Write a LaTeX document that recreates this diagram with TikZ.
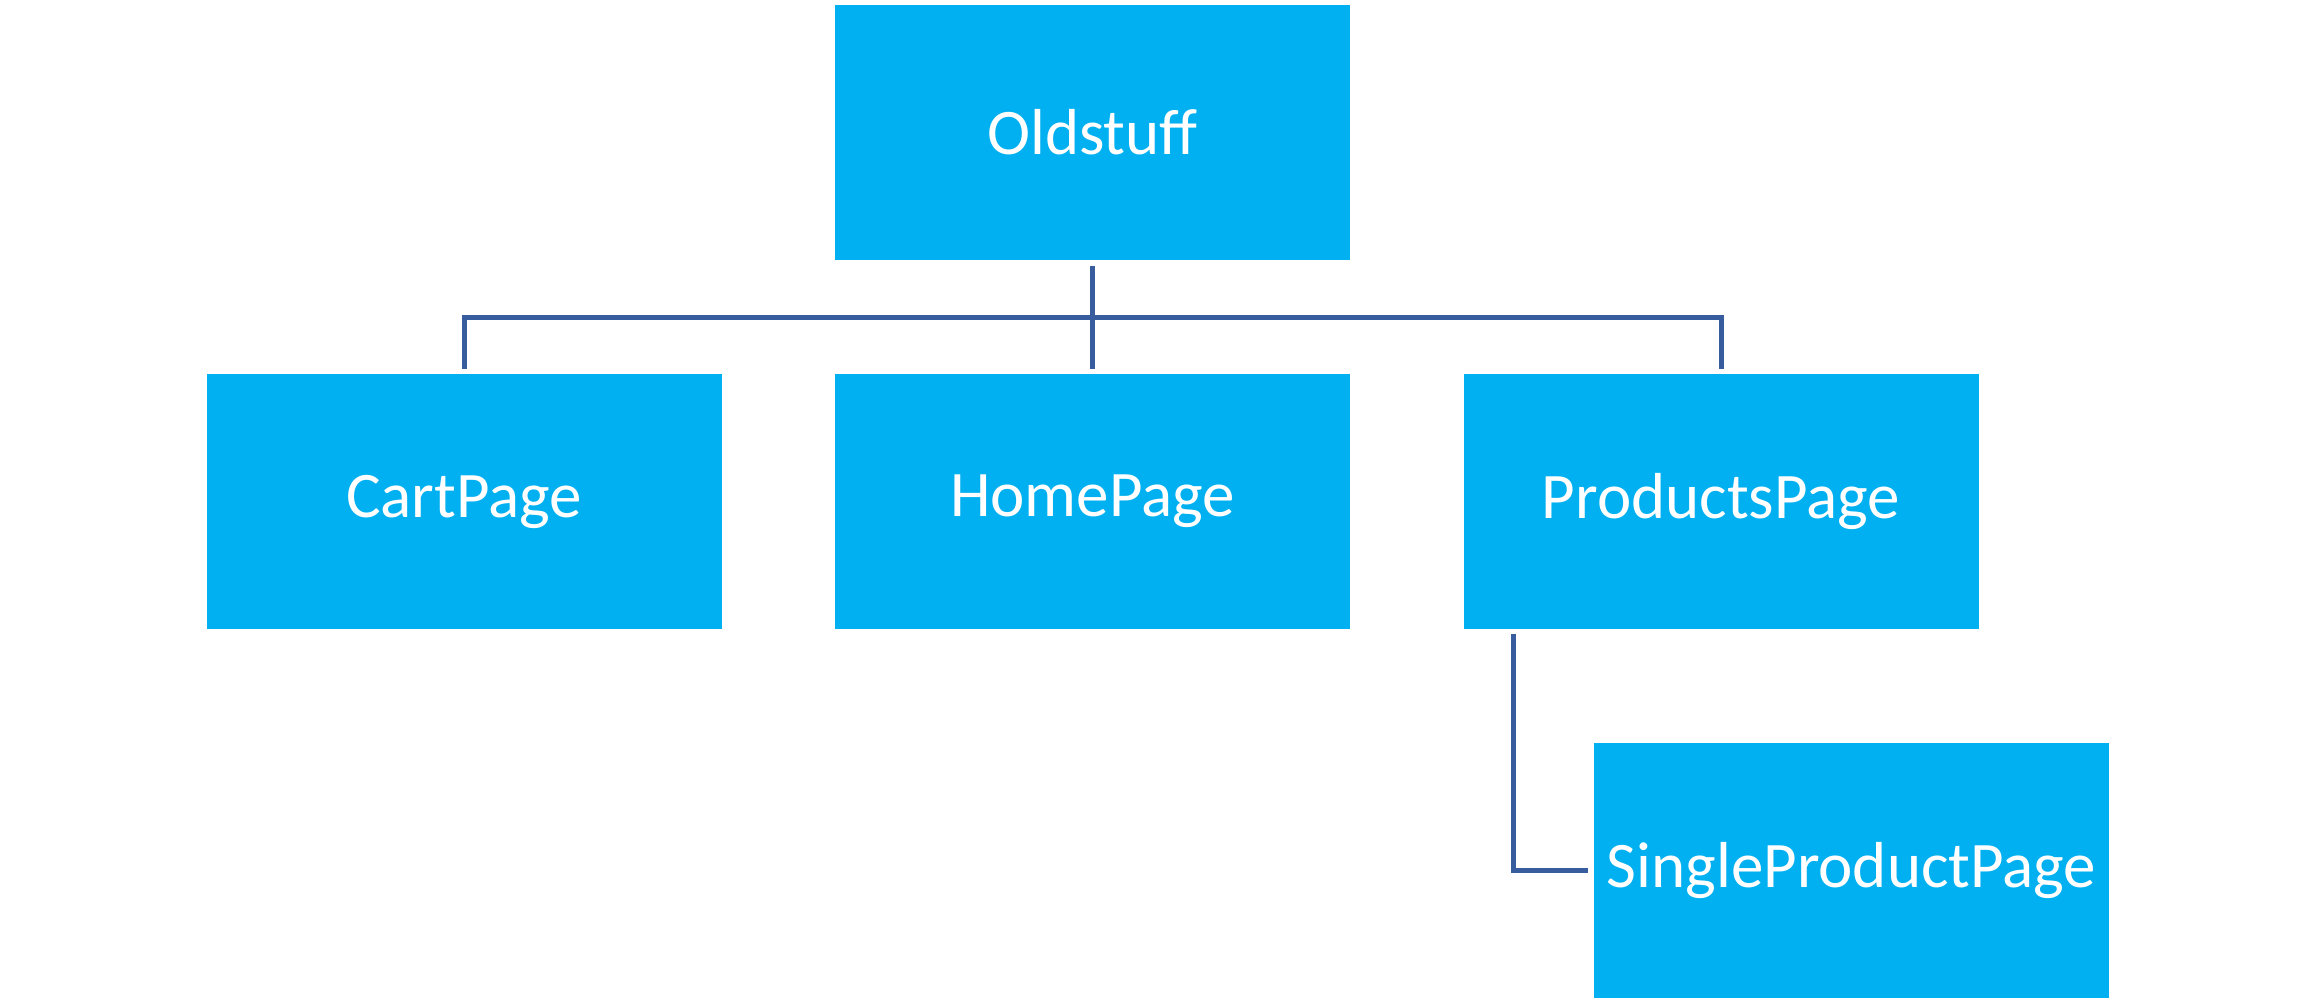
\documentclass[tikz,border=0pt]{standalone}
\usepackage{fontspec}
\setmainfont{Carlito}
\definecolor{boxblue}{RGB}{0,176,240}
\definecolor{linkblue}{RGB}{56,93,159}
\begin{document}
\begin{tikzpicture}[x=0.3pt,y=-0.3pt,
  pagebox/.style={rectangle, fill=boxblue, draw=none, text=white,
    minimum width=154.5pt, minimum height=76.3pt, inner sep=0pt,
    outer sep=1.7pt, font=\fontsize{19.5}{23}\selectfont},
  conn/.style={draw=linkblue, line width=1.5pt}]
\useasboundingbox (0,0) rectangle (2314,1003);

% tree of pages
\node[pagebox, minimum height=76.5pt] (old) at (1092.5,132.5) {Oldstuff};
\node[pagebox] (cart) at (464,501.5) {CartPage};
\node[pagebox] (home) at (1092.5,501.5) {HomePage};
\node[pagebox] (prod) at (1721,501.5) {ProductsPage};
\node[pagebox] (single) at (1851.5,870.5) {SingleProductPage};

% connectors
\coordinate (bus) at (1092.5,317);
\draw[conn] (old.south) -- (home.north);
\draw[conn] (cart.north) |- (bus) -| (prod.north);
\draw[conn] ([xshift=16.55pt]prod.south west) |- (single.west);
\end{tikzpicture}
\end{document}
